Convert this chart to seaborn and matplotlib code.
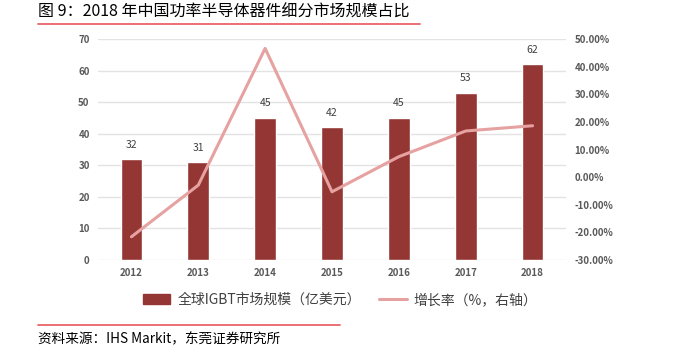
import pandas as pd
import matplotlib
matplotlib.use("Agg")
import matplotlib.pyplot as plt
import seaborn as sns
from matplotlib.patches import Patch
from matplotlib.lines import Line2D
from matplotlib.ticker import FuncFormatter

# data
years = ["2012", "2013", "2014", "2015", "2016", "2017", "2018"]
market_size = [32, 31, 45, 42, 45, 53, 62]            # 亿美元
growth_rate = [-21.6, -2.9, 46.6, -5.3, 7.4, 16.7, 18.6]  # %

bar_color = "#943634"
line_color = "#E6A1A1"
tick_color = "#595959"

sns.set_theme(style="white")
plt.rcParams['font.family'] = ['Noto Sans CJK SC', 'DejaVu Sans']

df = pd.DataFrame({"year": years, "size": market_size, "growth": growth_rate})

fig = plt.figure(figsize=(6.79, 3.53), dpi=100)
ax = fig.add_axes([98 / 679, 93 / 353, 468 / 679, 221 / 353])

sns.barplot(data=df, x="year", y="size", color=bar_color, width=0.325,
            saturation=1, ax=ax, zorder=2)
for i, v in enumerate(market_size):
    ax.text(i, v + 3, str(v), ha="center", va="bottom", fontsize=7.5,
            color="#404040")

ax.set_ylim(0, 70)
ax.set_yticks(range(0, 71, 10))
ax.set_xlim(-0.5, 6.5)
ax.grid(axis="y", color="#E3E3E3", linewidth=1, zorder=0)
ax.set_axisbelow(True)
ax.set_xlabel("")
ax.set_ylabel("")
for s in ax.spines.values():
    s.set_visible(False)
ax.tick_params(axis="both", length=0, labelsize=7, labelcolor=tick_color, pad=6)
for lab in ax.get_xticklabels() + ax.get_yticklabels():
    lab.set_fontweight("bold")

ax2 = ax.twinx()
sns.lineplot(data=df, x="year", y="growth", color=line_color, linewidth=2.2,
             ax=ax2, zorder=3)
ax2.set_ylim(-30, 50)
ax2.set_yticks(range(-30, 51, 10))
ax2.yaxis.set_major_formatter(FuncFormatter(lambda v, p: f"{v:.2f}%"))
ax2.set_xlim(-0.5, 6.5)
ax2.set_ylabel("")
ax2.grid(False)
for s in ax2.spines.values():
    s.set_visible(False)
ax2.tick_params(axis="y", length=0, labelsize=7, labelcolor=tick_color, pad=6)
for lab in ax2.get_yticklabels():
    lab.set_fontweight("bold")

handles = [Patch(facecolor=bar_color, edgecolor=bar_color),
           Line2D([0], [0], color=line_color, linewidth=2.2)]
labels = ["全球IGBT市场规模（亿美元）", "增长率（%，右轴）"]
fig.legend(handles, labels, loc="center", bbox_to_anchor=(340 / 679, 1 - 300 / 353),
           ncol=2, frameon=False, fontsize=10, handlelength=2.0,
           handleheight=0.7, handletextpad=0.5, columnspacing=1.3,
           labelcolor="#404040")

# title, footer and red rules
fig.text(38 / 679, 1 - 12 / 353, "图 9：2018 年中国功率半导体器件细分市场规模占比",
         fontsize=11.5, va="center", ha="left", color="#000000")
fig.add_artist(Line2D([38 / 679, 420 / 679], [1 - 23.5 / 353] * 2,
                      color="#E8656A", linewidth=1.3, transform=fig.transFigure))
fig.add_artist(Line2D([38 / 679, 340 / 679], [1 - 325 / 353] * 2,
                      color="#E8656A", linewidth=1.3, transform=fig.transFigure))
fig.text(38 / 679, 1 - 339 / 353, "资料来源：IHS Markit，东莞证券研究所",
         fontsize=9.8, va="center", ha="left", color="#000000")

fig.savefig("out.png", dpi=100)
